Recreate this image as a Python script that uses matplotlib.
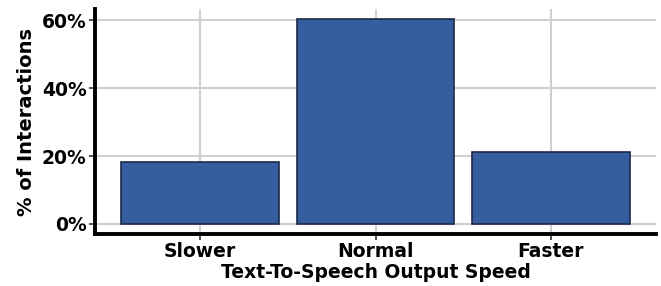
import matplotlib.pyplot as plt
import numpy as np
from matplotlib.ticker import PercentFormatter

categories = ['Slower', 'Normal', 'Faster']
share = [18.2, 60.3, 21.2]
y_ticks = [0, 20, 40, 60]

plt.rcParams['font.family'] = ['DejaVu Sans']
plt.rcParams['font.weight'] = 'bold'

fig = plt.figure(figsize=(6.61, 2.86), dpi=100)
ax = fig.add_axes([95 / 661, 1 - 234 / 286, (656 - 95) / 661, (234 - 9) / 286])

x = np.arange(1, len(categories) + 1)
ax.bar(x, share, width=0.9, color='#365d9f', edgecolor='#1b2b47', linewidth=1.2, zorder=3)

ax.set_xlim(0.4, 3.6)
ax.set_ylim(-2.95, 63.3)
ax.set_xticks(x)
ax.set_xticklabels(categories)
ax.set_yticks(y_ticks)
ax.yaxis.set_major_formatter(PercentFormatter(decimals=0))

ax.grid(True, color='#d0d0d0', linewidth=1.5, zorder=0)
for s in ['top', 'right']:
    ax.spines[s].set_visible(False)
for s in ['left', 'bottom']:
    ax.spines[s].set_linewidth(2.8)
    ax.spines[s].set_color('black')

ax.tick_params(axis='both', colors='#333333', length=4, width=1.2, labelsize=13.5,
               labelcolor='black', pad=2)
for lbl in ax.get_xticklabels() + ax.get_yticklabels():
    lbl.set_fontweight('bold')

ax.set_xlabel('Text-To-Speech Output Speed', fontsize=13.5, fontweight='bold', labelpad=1)
ax.set_ylabel('% of Interactions', fontsize=14, fontweight='bold', labelpad=4)

fig.savefig('out.png', dpi=100)
